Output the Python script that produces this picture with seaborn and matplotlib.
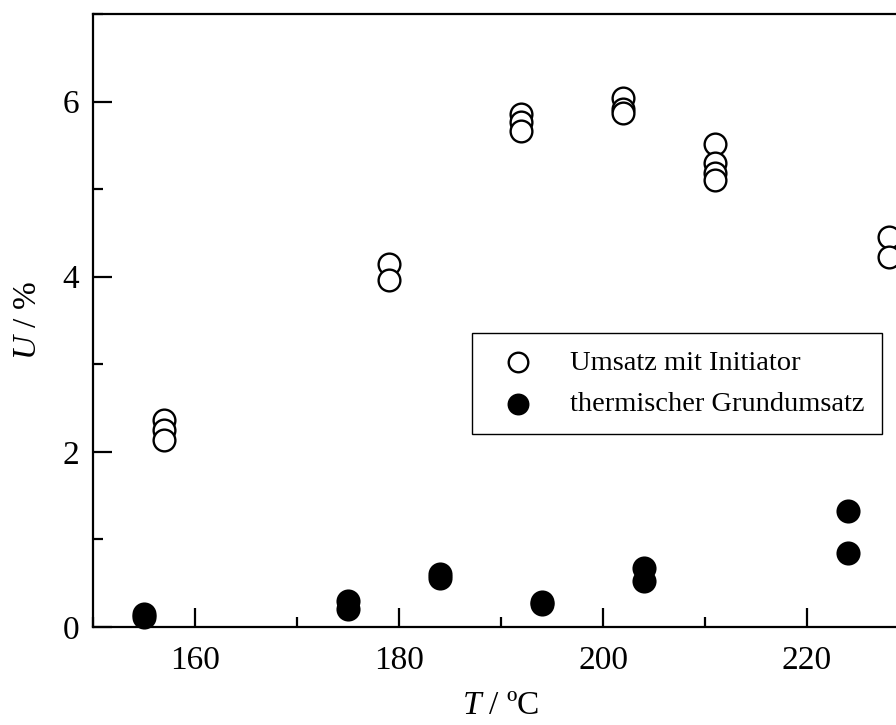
import pandas as pd
import matplotlib
matplotlib.use("Agg")
import matplotlib.pyplot as plt
import seaborn as sns
from matplotlib.ticker import MultipleLocator

# Stil: weiss, Serifenschrift (Times-ähnlich)
sns.set_theme(style="white")
plt.rcParams['font.family'] = ['Liberation Serif', 'DejaVu Serif']
plt.rcParams['mathtext.fontset'] = 'custom'
plt.rcParams['mathtext.it'] = 'Liberation Serif:italic'
plt.rcParams['mathtext.rm'] = 'Liberation Serif'
plt.rcParams['text.color'] = 'black'
plt.rcParams['axes.labelcolor'] = 'black'

# --- Daten ---
# Umsatz mit Initiator
T_init = [157, 157, 157, 179, 179, 192, 192, 192, 202, 202, 202,
          211, 211, 211, 211, 228, 228]
U_init = [2.36, 2.25, 2.13, 4.14, 3.96, 5.86, 5.77, 5.66, 6.04, 5.91, 5.87,
          5.52, 5.30, 5.19, 5.10, 4.45, 4.22]

# thermischer Grundumsatz
T_therm = [155, 155, 175, 175, 184, 184, 194, 194, 204, 204, 224, 224]
U_therm = [0.15, 0.11, 0.30, 0.20, 0.61, 0.56, 0.28, 0.26, 0.67, 0.53, 1.32, 0.85]

label_init = "Umsatz mit Initiator"
label_therm = "thermischer Grundumsatz"

df_init = pd.DataFrame({'T': T_init, 'U': U_init})
df_therm = pd.DataFrame({'T': T_therm, 'U': U_therm})

fig = plt.figure(figsize=(8.96, 7.25), dpi=100)
# Achse ragt rechts über den Bildrand hinaus (wie im Original abgeschnitten)
ax = fig.add_axes([93 / 896, 98 / 725, 816 / 896, 613 / 725])

sns.scatterplot(data=df_init, x='T', y='U', ax=ax, s=245, marker='o',
                facecolor='white', edgecolor='black', linewidth=1.7,
                label=label_init, zorder=3, clip_on=False)
sns.scatterplot(data=df_therm, x='T', y='U', ax=ax, s=245, marker='o',
                color='black', edgecolor='black', linewidth=1.7,
                label=label_therm, zorder=3, clip_on=False)

ax.set_xlim(150, 230)
ax.set_ylim(0, 7)
ax.xaxis.set_major_locator(MultipleLocator(20))
ax.xaxis.set_minor_locator(MultipleLocator(10))
ax.yaxis.set_major_locator(MultipleLocator(2))
ax.yaxis.set_minor_locator(MultipleLocator(1))
ax.set_xticks([160, 180, 200, 220])
ax.set_yticks([0, 2, 4, 6])

ax.tick_params(which='major', direction='in', length=14, width=1.6,
               labelsize=24, color='black', labelcolor='black')
ax.tick_params(which='minor', direction='in', length=7, width=1.6, color='black')
ax.tick_params(axis='x', which='major', pad=13)
ax.tick_params(axis='y', which='major', pad=10)
ax.tick_params(bottom=True, left=True, which='both')

for sp in ax.spines.values():
    sp.set_visible(True)
    sp.set_color('black')
    sp.set_linewidth(1.6)

ax.set_xlabel(r'$T$ / ºC', fontsize=24, labelpad=11)
ax.set_ylabel(r'$U$ / %', fontsize=24, labelpad=14)

leg = ax.legend(loc='upper left', bbox_to_anchor=(0.4645, 0.48),
                fontsize=20.5, frameon=True, fancybox=False, framealpha=1,
                edgecolor='black', markerscale=0.9, handletextpad=0.85,
                borderpad=0.6, labelspacing=0.55, borderaxespad=0)
leg.get_frame().set_linewidth(1.0)
for txt in leg.get_texts():
    txt.set_color('black')

plt.savefig('out.png', dpi=100)
